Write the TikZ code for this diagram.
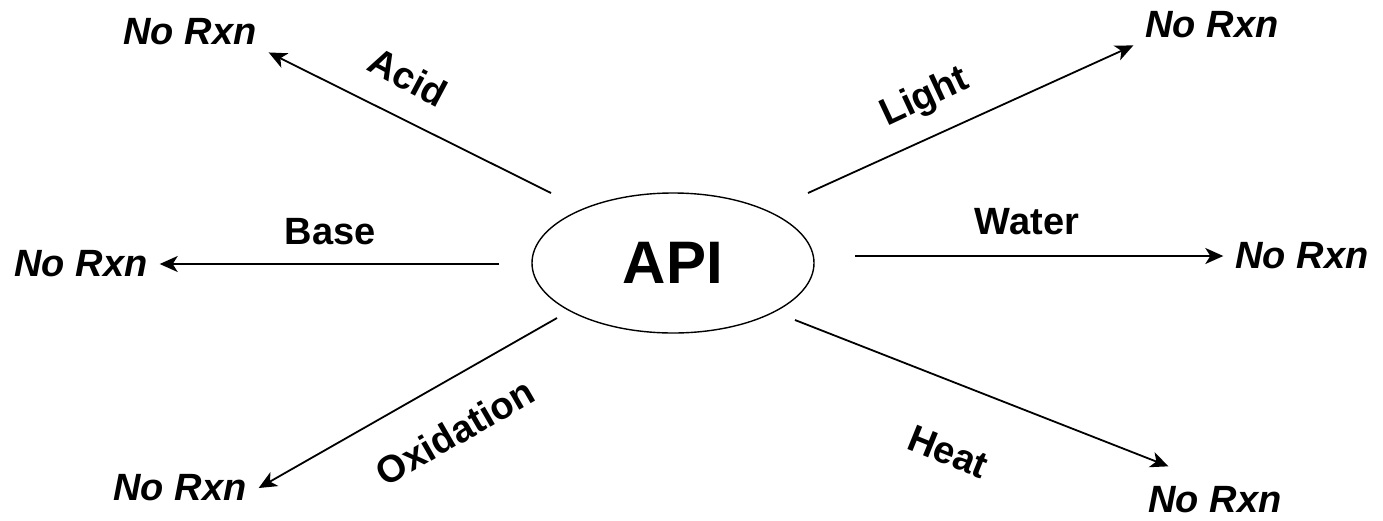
\documentclass[tikz,border=0pt]{standalone}
\usepackage{fontspec}
\setmainfont{Liberation Sans}
\usetikzlibrary{arrows.meta,shapes.geometric}

\tikzset{
    rxn/.style={font=\fontsize{38}{40}\selectfont\bfseries\itshape, inner xsep=12pt, inner ysep=7pt},
    cond/.style={font=\fontsize{38}{40}\selectfont\bfseries},
    arr/.style={line width=1.8pt, -{Stealth[length=18pt,width=16pt,inset=5pt]}}
}

\begin{document}
\begin{tikzpicture}[x=1pt, y=-1pt]
    \useasboundingbox (0,0) rectangle (1383,520);
    \node[draw, ellipse, line width=1.4pt, minimum width=282pt, minimum height=140pt, font=\fontsize{60}{60}\selectfont\bfseries] (api) at (673,263) {API};
    % free ends next to the ellipse
    \coordinate (sAcid) at (551,193);
    \coordinate (sLight) at (808,193);
    \coordinate (sBase) at (499,264);
    \coordinate (sWater) at (855,256);
    \coordinate (sOx) at (557,318);
    \coordinate (sHeat) at (795,320);
    % products
    \node[rxn] (nrAcid) at (190,32) {No Rxn};
    \node[rxn] (nrLight) at (1212,25) {No Rxn};
    \node[rxn] (nrBase) at (81,264) {No Rxn};
    \node[rxn] (nrWater) at (1302,256) {No Rxn};
    \node[rxn] (nrOx) at (180,488) {No Rxn};
    \node[rxn, inner ysep=2pt] (nrHeat) at (1215,500) {No Rxn};
    \draw[arr] (sAcid) -- (nrAcid.south east);
    \draw[arr] (sLight) -- (nrLight.south west);
    \draw[arr] (sBase) -- (nrBase.east);
    \draw[arr] (sWater) -- (nrWater.west);
    \draw[arr] (sOx) -- (nrOx.east);
    \draw[arr, shorten >=50pt] (sHeat) -- (nrHeat.north);
    % conditions
    \node[cond, rotate=-28] (lAcid) at (408,77) {Acid};
    \node[cond, rotate=25] (lLight) at (925,98) {Light};
    \node[cond] (lBase) at (330,232) {Base};
    \node[cond] (lWater) at (1027,222) {Water};
    \node[cond, rotate=30] (lOx) at (455,432) {Oxidation};
    \node[cond, rotate=-22] (lHeat) at (948,452) {Heat};
\end{tikzpicture}
\end{document}
